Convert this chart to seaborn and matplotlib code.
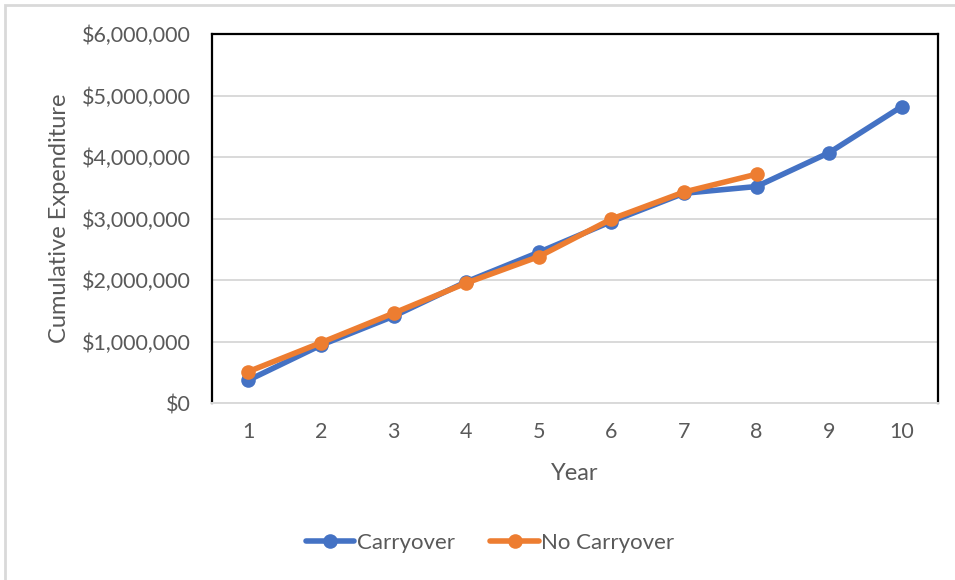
import pandas as pd
import matplotlib.pyplot as plt
import matplotlib.ticker as mticker
import seaborn as sns

sns.set_theme(style='white')
plt.rcParams['font.family'] = ['Lato', 'DejaVu Sans']

# Valores
years = [1, 2, 3, 4, 5, 6, 7, 8, 9, 10]
carryover = [370000, 940000, 1410000, 1970000, 2450000, 2950000, 3410000, 3520000, 4070000, 4820000]
no_carryover = [510000, 980000, 1460000, 1950000, 2380000, 2990000, 3430000, 3720000, None, None]
series_names = ['Carryover', 'No Carryover']

df = pd.DataFrame({
    'Year': years * 2,
    'Expenditure': carryover + no_carryover,
    'Scenario': [series_names[0]] * len(years) + [series_names[1]] * len(years),
}).dropna()

cor_texto = '#595959'
fig = plt.figure(figsize=(9.55, 5.8), dpi=100)
ax = fig.add_axes([212 / 955, 1 - 403 / 580, 726 / 955, 369 / 580])

sns.lineplot(data=df, x='Year', y='Expenditure', hue='Scenario', hue_order=series_names,
             palette=['#4472C4', '#ED7D31'], marker='o', markersize=10.5,
             markeredgewidth=0, linewidth=4, ax=ax, legend=True)

ax.set_xlim(0.5, 10.5)
ax.set_ylim(0, 6000000)
ax.set_xticks(years)
ax.set_yticks(range(0, 6000001, 1000000))
ax.yaxis.set_major_formatter(mticker.FuncFormatter(lambda v, p: f'${v:,.0f}'))
ax.grid(axis='y', color='#d9d9d9', linewidth=1.4)
ax.set_axisbelow(True)
ax.tick_params(length=0, labelsize=15.5, labelcolor=cor_texto)
ax.tick_params(axis='x', pad=14)
ax.tick_params(axis='y', pad=15)

for lado in ['top', 'left', 'right']:
    ax.spines[lado].set_color('black')
    ax.spines[lado].set_linewidth(1.6)
ax.spines['bottom'].set_color('#d9d9d9')
ax.spines['bottom'].set_linewidth(1.4)

ax.set_xlabel('Year', fontsize=17, color=cor_texto)
ax.set_ylabel('Cumulative Expenditure', fontsize=17, color=cor_texto)
ax.xaxis.set_label_coords(0.5, (403 - 463) / 369)
ax.yaxis.set_label_coords((70 - 212) / 726, 0.5)

# Legenda embaixo
handles, labels = ax.get_legend_handles_labels()
ax.get_legend().remove()
fig.legend(handles, labels, loc='center', bbox_to_anchor=(490 / 955, 1 - 543 / 580), ncol=2,
           frameon=False, fontsize=16, labelcolor=cor_texto, handlelength=2.2,
           handletextpad=0.1, columnspacing=1.6)

# Borda cinza do gráfico
fig.patches.append(plt.Rectangle((5 / 955, -0.05), 1.1, 1 - 5 / 580 + 0.05, transform=fig.transFigure,
                                 fill=False, edgecolor='#d9d9d9', linewidth=2))

fig.savefig('out.png', dpi=100)
